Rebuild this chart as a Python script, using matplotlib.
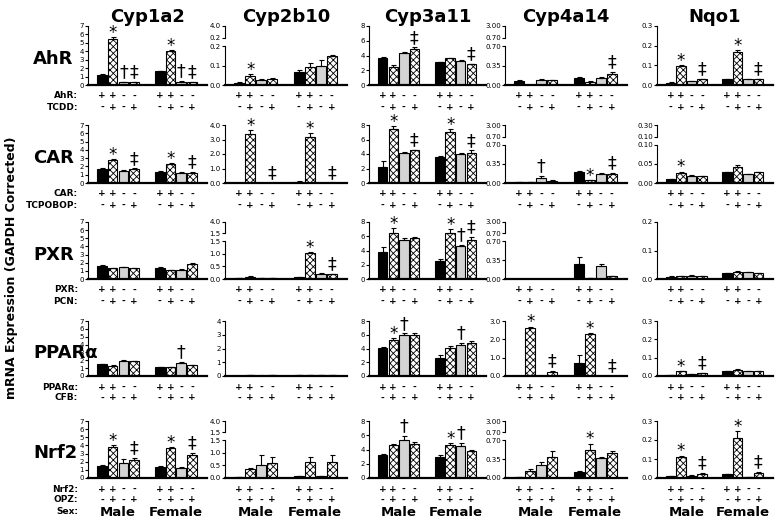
import matplotlib.pyplot as plt
from matplotlib import transforms

# Genes (columns), receptors / ligands (rows)
genes = ['Cyp1a2', 'Cyp2b10', 'Cyp3a11', 'Cyp4a14', 'Nqo1']
receptors = ['AhR', 'CAR', 'PXR', 'PPARα', 'Nrf2']
ligands = ['TCDD', 'TCPOBOP', 'PCN', 'CFB', 'OPZ']
sexes = ['Male', 'Female']
receptor_signs = ['+', '+', '-', '-']
ligand_signs = ['-', '+', '-', '+']

# each panel: 4 male bars then 4 female bars
ahr_mean = [
    [1.2, 5.4, 0.3, 0.35, 1.65, 4.05, 0.4, 0.35],
    [0.012, 0.047, 0.028, 0.032, 0.065, 0.095, 0.10, 0.147],
    [3.6, 2.5, 4.4, 4.9, 3.1, 3.6, 3.3, 2.8],
    [0.07, 0.005, 0.09, 0.085, 0.12, 0.06, 0.13, 0.2],
    [0.012, 0.098, 0.02, 0.03, 0.028, 0.17, 0.028, 0.03],
]
ahr_err = [
    [0.05, 0.25, 0.03, 0.03, 0.05, 0.12, 0.05, 0.03],
    [0.002, 0.008, 0.005, 0.003, 0.01, 0.02, 0.03, 0.005],
    [0.15, 0.25, 0.12, 0.2, 0.08, 0.12, 0.1, 0.08],
    [0.015, 0.0, 0.01, 0.01, 0.015, 0.01, 0.015, 0.03],
    [0.001, 0.004, 0.002, 0.002, 0.002, 0.008, 0.002, 0.002],
]
ahr_marks = [
    ['', '*', '†', '‡', '', '*', '†', '‡'],
    ['', '*', '', '', '', '', '', ''],
    ['', '', '', '‡', '', '', '', '‡'],
    ['', '', '', '', '', '', '', '‡'],
    ['', '*', '', '‡', '', '*', '', '‡'],
]

car_mean = [
    [1.7, 2.8, 1.5, 1.7, 1.35, 2.35, 1.25, 1.25],
    [0.02, 3.4, 0.0, 0.02, 0.1, 3.2, 0.0, 0.03],
    [2.2, 7.4, 4.1, 4.5, 3.6, 7.0, 4.0, 4.1],
    [0.02, 0.01, 0.1, 0.045, 0.2, 0.05, 0.17, 0.17],
    [0.01, 0.027, 0.019, 0.017, 0.028, 0.042, 0.023, 0.029],
]
car_err = [
    [0.08, 0.08, 0.06, 0.06, 0.05, 0.08, 0.05, 0.05],
    [0.01, 0.25, 0.0, 0.005, 0.02, 0.22, 0.0, 0.01],
    [0.9, 0.4, 0.15, 0.1, 0.1, 0.4, 0.08, 0.4],
    [0.005, 0.0, 0.03, 0.008, 0.02, 0.01, 0.02, 0.01],
    [0.001, 0.003, 0.001, 0.001, 0.002, 0.006, 0.001, 0.001],
]
car_marks = [
    ['', '*', '', '‡', '', '*', '', '‡'],
    ['', '*', '', '‡', '', '*', '', '‡'],
    ['', '*', '', '‡', '', '*', '', '‡'],
    ['', '', '†', '', '', '*', '', '‡'],
    ['', '*', '', '', '', '', '', ''],
]

pxr_mean = [
    [1.65, 1.3, 1.45, 1.35, 1.4, 1.05, 1.15, 1.85],
    [0.02, 0.08, 0.03, 0.04, 0.06, 1.05, 0.2, 0.18],
    [3.8, 6.5, 5.5, 5.8, 2.5, 6.5, 4.7, 5.5],
    [0.005, 0.002, 0.003, 0.005, 0.28, 0.01, 0.24, 0.05],
    [0.008, 0.009, 0.012, 0.009, 0.02, 0.025, 0.024, 0.02],
]
pxr_err = [
    [0.1, 0.08, 0.05, 0.05, 0.05, 0.05, 0.03, 0.06],
    [0.005, 0.02, 0.005, 0.005, 0.01, 0.04, 0.05, 0.02],
    [0.7, 0.7, 0.3, 0.15, 0.3, 0.5, 0.1, 0.4],
    [0.0, 0.0, 0.0, 0.0, 0.13, 0.0, 0.03, 0.005],
    [0.001, 0.001, 0.001, 0.001, 0.001, 0.003, 0.001, 0.001],
]
pxr_marks = [
    ['', '', '', '', '', '', '', ''],
    ['', '', '', '', '', '*', '', '‡'],
    ['', '*', '', '', '', '*', '†', '‡'],
    ['', '', '', '', '', '', '', ''],
    ['', '', '', '', '', '', '', ''],
]

ppara_mean = [
    [1.5, 1.3, 1.95, 1.85, 1.15, 1.1, 1.7, 1.35],
    [0.01, 0.04, 0.03, 0.05, 0.05, 0.08, 0.06, 0.08],
    [4.1, 5.2, 5.9, 5.9, 2.6, 4.1, 4.5, 4.8],
    [0.01, 2.6, 0.0, 0.2, 0.7, 2.3, 0.0, 0.01],
    [0.007, 0.025, 0.01, 0.015, 0.027, 0.034, 0.026, 0.028],
]
ppara_err = [
    [0.05, 0.06, 0.08, 0.06, 0.04, 0.04, 0.08, 0.05],
    [0.005, 0.01, 0.01, 0.01, 0.01, 0.02, 0.01, 0.02],
    [0.1, 0.3, 0.3, 0.3, 0.4, 0.2, 0.3, 0.3],
    [0.0, 0.1, 0.0, 0.08, 0.45, 0.03, 0.0, 0.0],
    [0.001, 0.002, 0.001, 0.001, 0.002, 0.003, 0.002, 0.002],
]
ppara_marks = [
    ['', '', '', '', '', '', '†', ''],
    ['', '', '', '', '', '', '', ''],
    ['', '*', '†', '', '', '', '†', ''],
    ['', '*', '', '‡', '', '*', '', '‡'],
    ['', '*', '', '‡', '', '', '', ''],
]

nrf2_mean = [
    [1.5, 3.8, 1.85, 2.2, 1.4, 3.7, 1.2, 2.85],
    [0.02, 0.37, 0.5, 0.6, 0.06, 0.65, 0.08, 0.65],
    [3.2, 4.6, 5.4, 4.8, 2.9, 4.6, 4.5, 3.8],
    [0.01, 0.13, 0.24, 0.4, 0.11, 0.52, 0.37, 0.47],
    [0.012, 0.11, 0.012, 0.022, 0.022, 0.21, 0.006, 0.028],
]
nrf2_err = [
    [0.05, 0.2, 0.5, 0.3, 0.05, 0.08, 0.1, 0.2],
    [0.0, 0.03, 0.42, 0.25, 0.01, 0.18, 0.01, 0.27],
    [0.1, 0.15, 0.5, 0.2, 0.3, 0.3, 0.4, 0.15],
    [0.0, 0.03, 0.05, 0.1, 0.015, 0.12, 0.03, 0.04],
    [0.001, 0.008, 0.002, 0.003, 0.001, 0.035, 0.001, 0.005],
]
nrf2_marks = [
    ['', '*', '', '‡', '', '*', '', '‡'],
    ['', '', '', '', '', '', '', ''],
    ['', '', '†', '', '', '*', '†', ''],
    ['', '', '', '', '', '*', '', ''],
    ['', '*', '', '‡', '', '*', '', '‡'],
]

# y tick labels per panel, and the top label of a broken axis ('' = no break)
t_1a2 = ['0', '1', '2', '3', '4', '5', '6', '7']
t_3a11 = ['0', '2', '4', '6', '8']
ahr_ticks = [t_1a2, ['0.0', '0.1', '0.2'], t_3a11, ['0.00', '0.35', '0.70'], ['0.0', '0.1', '0.2', '0.3']]
ahr_stub = ['', '4.0', '', '3.00', '']
car_ticks = [t_1a2, ['0.0', '1.0', '2.0', '3.0', '4.0'], t_3a11, ['0.00', '0.35', '0.70'], ['0.00', '0.05', '0.10']]
car_stub = ['', '', '', '3.00', '0.30']
pxr_ticks = [t_1a2, ['0.0', '0.5', '1.0', '1.5'], t_3a11, ['0.00', '0.35', '0.70'], ['0.0', '0.1', '0.2']]
pxr_stub = ['', '4.0', '', '3.00', '']
ppara_ticks = [t_1a2, ['0', '1', '2', '3', '4'], t_3a11, ['0.0', '1.0', '2.0', '3.0'], ['0.0', '0.1', '0.2', '0.3']]
ppara_stub = ['', '', '', '', '']
nrf2_ticks = [t_1a2, ['0.0', '0.5', '1.0', '1.5'], t_3a11, ['0.00', '0.35', '0.70'], ['0.0', '0.1', '0.2', '0.3']]
nrf2_stub = ['', '4.0', '', '3.00', '']

rows = [
    (ahr_mean, ahr_err, ahr_marks, ahr_ticks, ahr_stub),
    (car_mean, car_err, car_marks, car_ticks, car_stub),
    (pxr_mean, pxr_err, pxr_marks, pxr_ticks, pxr_stub),
    (ppara_mean, ppara_err, ppara_marks, ppara_ticks, ppara_stub),
    (nrf2_mean, nrf2_err, nrf2_marks, nrf2_ticks, nrf2_stub),
]

# layout in pixels
W, H = 776, 517
col_x = [(88, 207), (225, 347), (369, 486), (505, 627), (657, 773)]
row_y = [(26, 85), (125, 183), (222, 279), (321, 376), (421, 478)]
xpos = [0, 1, 2, 3, 5.4, 6.4, 7.4, 8.4]

bar_face = ['black', 'white', '#d3d3d3', 'white'] * 2
bar_hatch = ['', 'xxxxx', '', 'xxxxx'] * 2

plt.rcParams['hatch.linewidth'] = 0.6
fig = plt.figure(figsize=(W / 100, H / 100), dpi=100)


def fy(p):
    return 1 - p / H


def add_ax(l, t, r, b):
    return fig.add_axes([l / W, 1 - b / H, (r - l) / W, (b - t) / H])


for j, g in enumerate(genes):
    fig.text(sum(col_x[j]) / 2 / W, fy(17), g, ha='center', va='center',
             fontsize=13, fontweight='bold')

for i, (means, errs, marks, ticks, stubs) in enumerate(rows):
    top, base = row_y[i]
    fig.text(33 / W, fy((top + base) / 2 + 4), receptors[i], ha='left', va='center',
             fontsize=13, fontweight='bold')
    fig.text(78 / W, fy(base + 11), receptors[i] + ':', ha='right', va='center',
             fontsize=6.5, fontweight='bold')
    fig.text(78 / W, fy(base + 22), ligands[i] + ':', ha='right', va='center',
             fontsize=6.5, fontweight='bold')
    for j in range(5):
        l, r = col_x[j]
        vals = [float(t) for t in ticks[j]]
        if stubs[j]:
            h = base - top
            ax = add_ax(l, base - 0.66 * h, r, base)
            sax = add_ax(l, top, r, top + 0.2 * h)
            sax.set_xlim(0, 1)
            sax.set_ylim(0, 1)
            sax.set_yticks([0, 1])
            sax.set_yticklabels([ticks[j][-1], stubs[j]])
            sax.set_xticks([])
            for s in ['top', 'right', 'bottom']:
                sax.spines[s].set_visible(False)
            sax.spines['left'].set_linewidth(0.8)
            sax.tick_params(axis='y', labelsize=5, length=2, width=0.8, pad=1)
            sax.patch.set_alpha(0)
        else:
            ax = add_ax(l, top, r, base)
        ax.patch.set_alpha(0)
        ax.bar(xpos, means[j], width=0.9, color=bar_face, hatch=bar_hatch,
               edgecolor='black', linewidth=0.8, zorder=2)
        ax.errorbar(xpos, means[j], yerr=[[0] * 8, errs[j]], fmt='none',
                    ecolor='black', elinewidth=0.8, capsize=1.8, capthick=0.8, zorder=3)
        for x, m, e, mk in zip(xpos, means[j], errs[j], marks[j]):
            if mk == '*':
                ax.annotate(mk, xy=(x, m + e), xytext=(0, -3.5),
                            textcoords='offset points', ha='center', va='bottom',
                            fontsize=12, annotation_clip=False)
            elif mk:
                ax.annotate(mk, xy=(x, m + e), xytext=(0, 0.5),
                            textcoords='offset points', ha='center', va='bottom',
                            fontsize=12.5, annotation_clip=False)
        ax.set_xlim(-1.3, 9.8)
        ax.set_ylim(0, vals[-1])
        ax.set_yticks(vals)
        ax.set_yticklabels(ticks[j])
        ax.set_xticks([])
        ax.spines['top'].set_visible(False)
        ax.spines['right'].set_visible(False)
        ax.spines['left'].set_linewidth(0.8)
        ax.spines['bottom'].set_linewidth(1.6)
        ax.tick_params(axis='y', labelsize=5, length=2, width=0.8, pad=1)

        tr = transforms.blended_transform_factory(ax.transData, fig.transFigure)
        for x, s1, s2 in zip(xpos, receptor_signs * 2, ligand_signs * 2):
            ax.text(x, fy(base + 11), s1, transform=tr, ha='center', va='center',
                    fontsize=6.5, fontweight='bold')
            ax.text(x, fy(base + 22), s2, transform=tr, ha='center', va='center',
                    fontsize=6.5, fontweight='bold')
        if i == 4:
            ax.text(1.5, fy(512), sexes[0], transform=tr, ha='center', va='center',
                    fontsize=9.5, fontweight='bold')
            ax.text(6.9, fy(512), sexes[1], transform=tr, ha='center', va='center',
                    fontsize=9.5, fontweight='bold')

fig.text(78 / W, fy(512), 'Sex:', ha='right', va='center', fontsize=6.5, fontweight='bold')
fig.text(12 / W, fy(268), 'mRNA Expression (GAPDH Corrected)', rotation=90,
         ha='center', va='center', fontsize=9, fontweight='bold')

fig.savefig('out.png', dpi=100)
